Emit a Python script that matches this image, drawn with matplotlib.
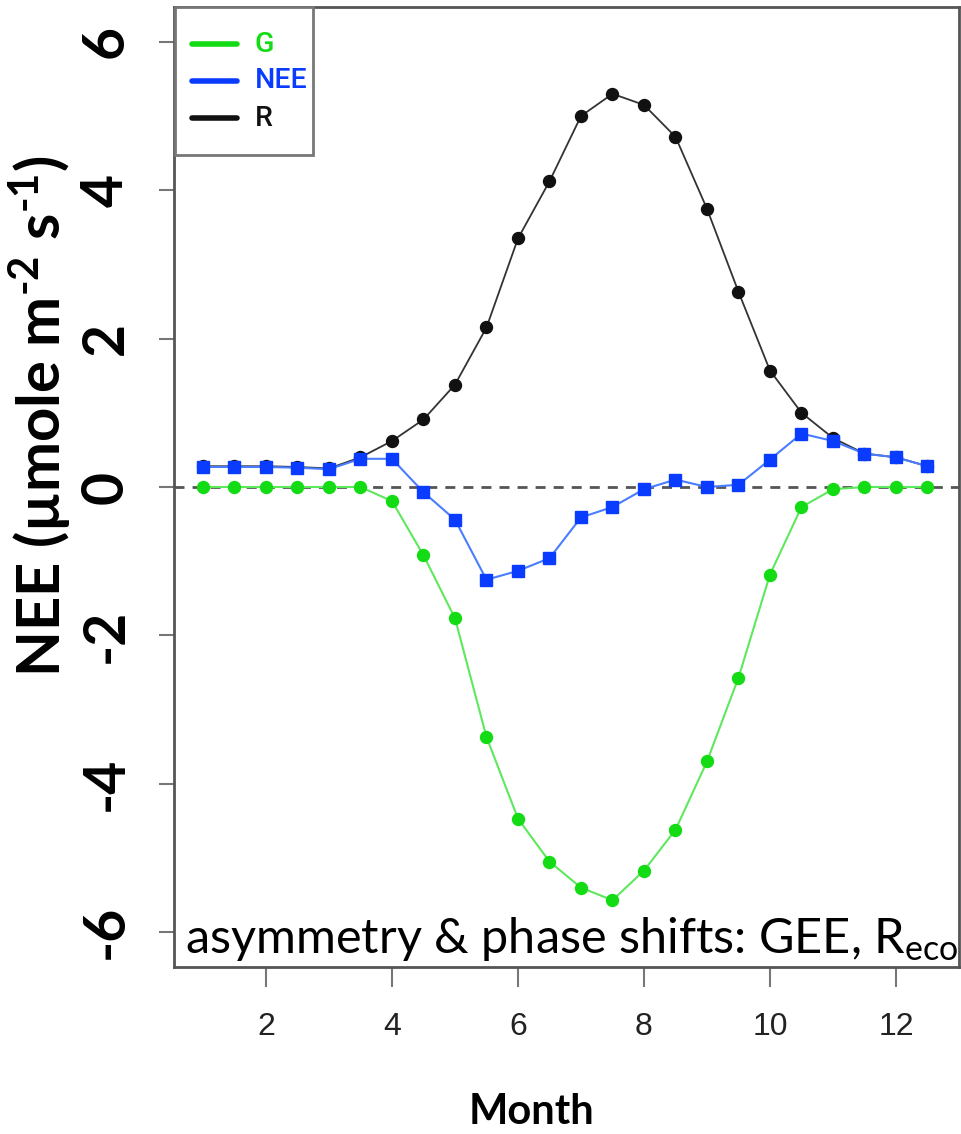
import matplotlib
matplotlib.use("Agg")
import matplotlib.pyplot as plt
from matplotlib.lines import Line2D
from matplotlib.patches import Rectangle

# Monthly (half-month step) mean fluxes, µmole m-2 s-1
month = [1.0, 1.5, 2.0, 2.5, 3.0, 3.5, 4.0, 4.5, 5.0, 5.5, 6.0, 6.5,
         7.0, 7.5, 8.0, 8.5, 9.0, 9.5, 10.0, 10.5, 11.0, 11.5, 12.0, 12.5]
resp = [0.28, 0.28, 0.28, 0.27, 0.25, 0.40, 0.62, 0.91, 1.38, 2.15, 3.35, 4.12,
        5.00, 5.30, 5.15, 4.72, 3.75, 2.63, 1.57, 1.00, 0.66, 0.45, 0.40, 0.28]
gpp = [0.0, 0.0, 0.0, 0.0, 0.0, 0.0, -0.19, -0.92, -1.77, -3.37, -4.47, -5.05,
       -5.40, -5.57, -5.17, -4.62, -3.70, -2.57, -1.18, -0.27, -0.03, 0.0, 0.0, 0.0]
nee = [0.27, 0.27, 0.27, 0.26, 0.24, 0.38, 0.38, -0.07, -0.44, -1.25, -1.13, -0.96,
       -0.41, -0.27, -0.03, 0.10, 0.0, 0.03, 0.37, 0.72, 0.62, 0.45, 0.40, 0.28]

x_ticks = [2, 4, 6, 8, 10, 12]
y_ticks = [-6, -4, -2, 0, 2, 4, 6]
series_names = ["G", "NEE", "R"]

GREEN_LINE, GREEN_MK = "#5ee85e", "#14dc14"
BLUE_LINE, BLUE_MK = "#4a7cff", "#0a3cff"
BLACK = "#111111"
SPINE = "#555555"
legend_colors = [GREEN_MK, BLUE_MK, BLACK]

plt.rcParams["axes.unicode_minus"] = False
plt.rcParams["mathtext.fontset"] = "custom"
plt.rcParams["mathtext.rm"] = "Lato:bold"
plt.rcParams["mathtext.bf"] = "Lato:bold"
plt.rcParams["mathtext.it"] = "Lato"

W, H = 961, 1134
fig = plt.figure(figsize=(W / 100, H / 100), dpi=100)


def fx(px):
    return px / W


def fy(py):
    return 1 - py / H


ax = fig.add_axes([fx(174), fy(967), (959 - 174) / W, (967 - 7) / H])

ax.axhline(0, color="#555555", lw=2.0, dashes=(3.6, 2.9), zorder=1)

ax.plot(month, resp, color="#333333", lw=1.3, marker="o", ms=8.6,
        mfc=BLACK, mec=BLACK, zorder=3)
ax.plot(month, gpp, color=GREEN_LINE, lw=1.5, marker="o", ms=8.6,
        mfc=GREEN_MK, mec=GREEN_MK, zorder=3)
ax.plot(month, nee, color=BLUE_LINE, lw=1.5, marker="s", ms=8.6,
        mfc=BLUE_MK, mec=BLUE_MK, zorder=4)

ax.set_xlim(0.54, 13.0)
ax.set_ylim(-6.47, 6.47)

for s in ax.spines.values():
    s.set_color(SPINE)
    s.set_linewidth(2.0)

ax.set_xticks(x_ticks)
ax.set_yticks(y_ticks)
ax.tick_params(axis="x", direction="out", length=14.5, width=1.5, color="#777777",
               pad=18)
ax.tick_params(axis="y", direction="out", length=10.8, width=1.5, color="#777777",
               pad=19)
for lab in ax.get_xticklabels():
    lab.set_fontfamily(["Liberation Sans Narrow", "Liberation Sans"])
    lab.set_fontsize(23)
    lab.set_color("#222222")
for lab in ax.get_yticklabels():
    lab.set_fontfamily("Lato")
    lab.set_fontweight("bold")
    lab.set_fontsize(41)
    lab.set_rotation(90)
    lab.set_va("center")

# legend box in the upper-left corner
fig.add_artist(Rectangle((fx(175), fy(155)), (313 - 175) / W, (155 - 7) / H,
                         transform=fig.transFigure, facecolor="white",
                         edgecolor="#777777", lw=2.0, zorder=5))
for i, (name, col) in enumerate(zip(series_names, legend_colors)):
    yy = fy(44 + 37 * i)
    fig.add_artist(Line2D([fx(192), fx(237)], [yy, yy], transform=fig.transFigure,
                          color=col, lw=4, solid_capstyle="round", zorder=6))
    fig.text(fx(255), yy, name, color=col, family="Roboto", fontweight="medium",
             fontsize=20.5, ha="left", va="center", zorder=6)

# annotation in the lower part of the panel
ax.text(fx(185), fy(953), r"asymmetry & phase shifts: GEE, R$_{\mathit{eco}}$",
        transform=fig.transFigure, ha="left", va="baseline",
        family="Lato", fontsize=35, color="black", zorder=10)

fig.text(fx(40), fy(416), r"NEE (µmole m$^{\text{-2}}$ s$^{\text{-1}}$)",
         rotation=90, ha="center", va="center", family="Lato",
         fontweight="bold", fontsize=43)
fig.text(fx(532), fy(1112), "Month", ha="center", va="center",
         family="Lato", fontweight="bold", fontsize=30)

fig.savefig("out.png", dpi=100)
